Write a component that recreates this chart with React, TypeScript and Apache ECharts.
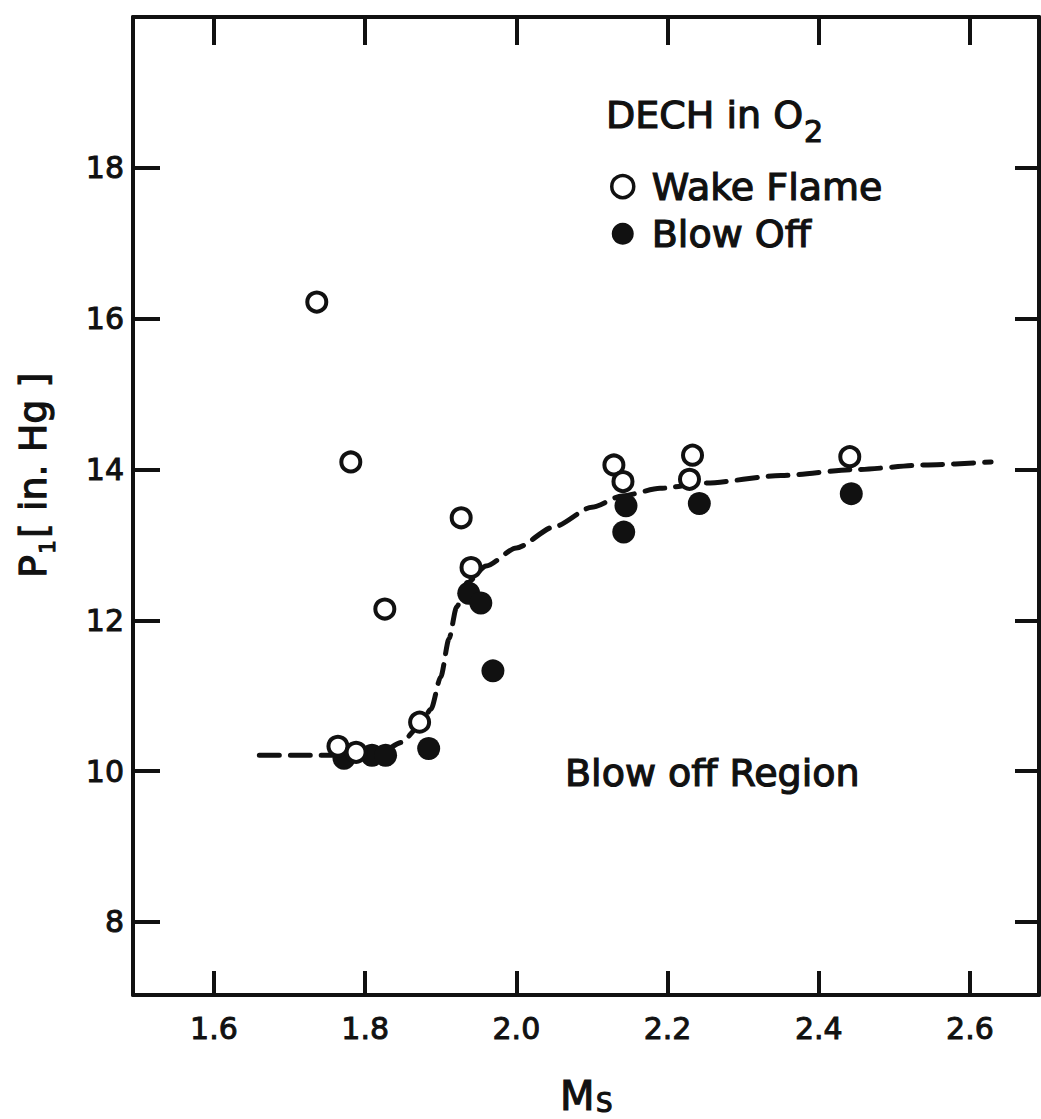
import React, { useEffect, useRef } from "react";
import * as echarts from "echarts";

const xTicks = [1.6, 1.8, 2.0, 2.2, 2.4, 2.6];
const yTicks = [8, 10, 12, 14, 16, 18];

const wakeFlame: number[][] = [
  [1.736, 16.22], [1.781, 14.1], [1.826, 12.15], [1.764, 10.33], [1.788, 10.25],
  [1.872, 10.65], [1.927, 13.36], [1.94, 12.7], [2.129, 14.06], [2.141, 13.84],
  [2.233, 14.19], [2.229, 13.87], [2.441, 14.17],
];

const blowOff: number[][] = [
  [1.772, 10.17], [1.809, 10.21], [1.827, 10.21], [1.884, 10.3], [1.937, 12.36],
  [1.953, 12.23], [1.969, 11.33], [2.145, 13.52], [2.142, 13.17], [2.242, 13.55],
  [2.443, 13.68],
];

const boundary: number[][] = [
  [1.66, 10.21], [1.72, 10.21], [1.78, 10.21], [1.821, 10.25], [1.848, 10.38],
  [1.872, 10.6], [1.887, 10.82], [1.9, 11.25], [1.911, 11.76], [1.921, 12.18],
  [1.935, 12.5], [1.96, 12.72], [2.0, 12.96], [2.05, 13.24], [2.1, 13.5],
  [2.14, 13.65], [2.19, 13.75], [2.25, 13.82], [2.35, 13.92], [2.45, 14.0],
  [2.54, 14.06], [2.628, 14.1],
];

const FONT = "DejaVu Sans";
const INK = "#111";

export default function App() {
  const ref = useRef<HTMLDivElement>(null);
  useEffect(() => {
    document.body.style.margin = "0";
    const chart = echarts.init(ref.current!, null, { renderer: "svg" });
    const xRange = { min: 1.4929, max: 2.6913 };
    const yRange = { min: 7.032, max: 20.0 };
    const axisLine = { show: true, onZero: false, lineStyle: { color: INK, width: 4 } };
    const heavy = { textBorderColor: INK, textBorderWidth: 1.2 };
    const txt = (extra: any) => ({ fontFamily: FONT, fill: INK, align: "left", verticalAlign: "middle", stroke: INK, lineWidth: 1.2, ...extra });
    const option: any = {
      animation: false,
      backgroundColor: "#fff",
      grid: { left: 133, right: 2, top: 17, bottom: 124 },
      legend: {
        orient: "vertical",
        left: 610,
        top: 167,
        padding: 0,
        itemWidth: 48,
        itemHeight: 22,
        itemGap: 8,
        selectedMode: false,
        textStyle: { fontSize: 38, fontFamily: FONT, color: INK, ...heavy },
        data: [
          { name: "Wake Flame", icon: "circle", itemStyle: { color: "#fff", borderColor: INK, borderWidth: 3.5 } },
          { name: "Blow Off", icon: "circle", itemStyle: { color: INK, borderWidth: 0 } },
        ],
      },
      xAxis: [
        {
          type: "value", position: "bottom", ...xRange,
          axisLine,
          splitLine: { show: false },
          axisTick: { show: true, inside: true, length: 24, lineStyle: { color: INK, width: 4 }, customValues: xTicks },
          axisLabel: { show: true, margin: 18, fontSize: 30, fontFamily: FONT, color: INK, ...heavy, textBorderWidth: 1, customValues: xTicks, formatter: (v: number) => v.toFixed(1) },
        },
        {
          type: "value", position: "top", ...xRange,
          axisLine,
          splitLine: { show: false },
          axisTick: { show: true, inside: true, length: 28, lineStyle: { color: INK, width: 4 }, customValues: xTicks },
          axisLabel: { show: false },
        },
      ],
      yAxis: [
        {
          type: "value", position: "left", ...yRange,
          axisLine,
          splitLine: { show: false },
          axisTick: { show: true, inside: true, length: 27, lineStyle: { color: INK, width: 4 }, customValues: yTicks },
          axisLabel: { show: true, margin: 9, fontSize: 30, fontFamily: FONT, color: INK, ...heavy, textBorderWidth: 1, customValues: yTicks, formatter: (v: number) => String(v) },
        },
        {
          type: "value", position: "right", ...yRange,
          axisLine,
          splitLine: { show: false },
          axisTick: { show: true, inside: true, length: 24, lineStyle: { color: INK, width: 4 }, customValues: yTicks },
          axisLabel: { show: false },
        },
      ],
      series: [
        {
          name: "Boundary",
          type: "line",
          data: boundary,
          smooth: 0.25,
          smoothMonotone: "x",
          showSymbol: false,
          z: 1,
          lineStyle: { color: INK, width: 5, type: [20, 11], cap: "round" },
        },
        {
          name: "Blow Off",
          type: "scatter",
          data: blowOff,
          symbol: "circle",
          symbolSize: 23,
          z: 2,
          itemStyle: { color: INK, opacity: 1 },
        },
        {
          name: "Wake Flame",
          type: "scatter",
          data: wakeFlame,
          symbol: "circle",
          symbolSize: 19,
          z: 3,
          itemStyle: { color: "#fff", borderColor: INK, borderWidth: 4, opacity: 1 },
        },
      ],
      graphic: [
        { type: "text", x: 606, y: 115, style: txt({ text: "DECH in O", fontSize: 38 }) },
        { type: "text", x: 804, y: 131, style: txt({ text: "2", fontSize: 30 }) },
        { type: "text", x: 565, y: 773, style: txt({ text: "Blow off Region", fontSize: 38 }) },
        { type: "text", x: 560, y: 1096, style: txt({ text: "M", fontSize: 40 }) },
        { type: "text", x: 596, y: 1103, style: txt({ text: "S", fontSize: 26 }) },
        {
          type: "group",
          x: 31,
          y: 578,
          rotation: Math.PI / 2,
          children: [
            { type: "text", x: 0, y: 2, style: txt({ text: "P", fontSize: 38 }) },
            { type: "text", x: 24, y: 16, style: txt({ text: "1", fontSize: 22, lineWidth: 1 }) },
            { type: "text", x: 40, y: 2, style: txt({ text: "[ in. Hg ]", fontSize: 38 }) },
          ],
        },
      ],
    };
    chart.setOption(option);
    return () => chart.dispose();
  }, []);
  return <div ref={ref} style={{ width: 1041, height: 1119 }} />;
}
